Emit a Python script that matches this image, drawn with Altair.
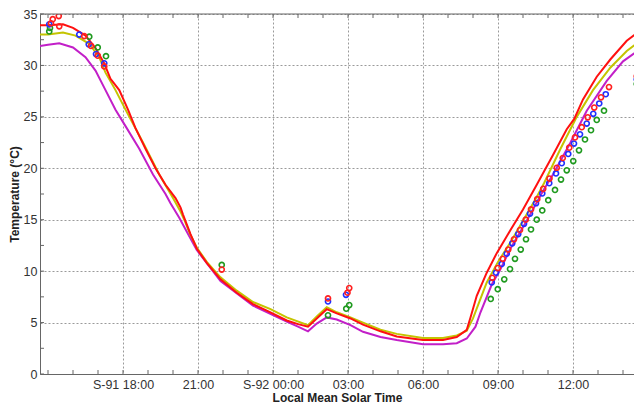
import altair as alt
import pandas as pd

# ---------------- data (hours from day S-91 00:00, temperature °C) ----------------
red_t = [14.68, 15.0, 15.6, 16.0, 16.5, 16.9, 17.25, 17.5, 17.85, 18.2, 18.5, 18.9, 19.3, 19.7, 20.1, 20.3,
         20.4, 20.7, 20.95, 21.35, 21.9, 22.55, 23.2, 23.9, 24.55, 25.0, 25.4, 25.75, 26.15, 26.55, 27.1,
         27.6, 28.3, 28.95, 30.0, 30.8, 31.35, 31.75, 31.9, 32.15, 32.55, 32.95, 33.5, 34.0, 34.55, 35.2,
         35.75, 36.05, 36.4, 36.95, 37.5, 38.15, 38.75]
red_T = [33.9, 33.9, 34.0, 33.65, 32.9, 31.7, 30.2, 28.7, 27.6, 25.7, 23.9, 21.9, 20.0, 18.4, 17.1, 16.2,
         15.5, 13.6, 12.2, 10.8, 9.2, 7.9, 6.8, 6.0, 5.2, 4.85, 4.6, 5.4, 6.3, 5.9, 5.4,
         4.8, 4.15, 3.65, 3.3, 3.3, 3.6, 4.3, 5.5, 7.6, 9.85, 11.75, 14.0, 16.0, 18.4, 21.3,
         23.8, 24.8, 26.7, 28.9, 30.6, 32.4, 33.5]

yellow_t = [14.68, 15.0, 15.6, 16.1, 16.65, 17.05, 17.3, 17.7, 18.1, 18.8, 19.45, 20.0, 20.3, 20.45, 20.7,
            20.95, 21.35, 21.9, 22.55, 23.2, 23.9, 24.55, 25.4, 25.75, 26.15, 26.55, 27.1, 27.6, 28.3, 28.95,
            30.0, 30.8, 31.35, 31.75, 32.0, 32.55, 33.0, 33.5, 34.0, 34.55, 34.85, 35.5, 36.15, 36.8, 37.5,
            38.15, 38.75]
yellow_T = [33.0, 33.0, 33.2, 32.9, 32.1, 30.8, 29.3, 27.6, 25.7, 22.5, 19.4, 17.1, 15.8, 15.0, 13.5,
            12.3, 10.9, 9.4, 8.1, 7.0, 6.3, 5.5, 4.75, 5.6, 6.5, 6.0, 5.5, 5.0, 4.3, 3.9,
            3.5, 3.5, 3.75, 4.2, 5.4, 8.9, 10.9, 12.8, 14.9, 17.2, 18.6, 21.9, 25.0, 27.6, 29.8,
            31.4, 32.5]

magenta_t = [14.68, 15.0, 15.45, 16.0, 16.5, 16.9, 17.3, 17.7, 18.1, 18.65, 19.2, 19.7, 19.9, 20.25, 20.45,
             20.95, 21.9, 23.2, 24.55, 25.0, 25.4, 25.75, 26.15, 26.55, 27.1, 27.6, 28.3, 28.95, 30.0, 30.8,
             31.35, 31.75, 32.1, 32.3, 32.75, 33.1, 33.5, 34.15, 34.8, 35.2, 35.9, 36.55, 37.35, 38.0, 38.75]
magenta_T = [31.9, 32.0, 32.15, 31.75, 30.8, 29.5, 27.6, 25.7, 24.1, 21.9, 19.4, 17.5, 16.6, 15.2, 14.3,
             12.05, 9.05, 6.65, 5.1, 4.6, 4.15, 4.9, 5.5, 5.3, 4.75, 4.1, 3.6, 3.3, 2.9, 2.9,
             3.0, 3.45, 4.6, 6.0, 8.7, 10.2, 12.2, 14.9, 17.8, 19.4, 22.5, 25.6, 28.5, 30.4, 31.7]

obs_red_t = [15.12, 15.19, 15.43, 15.45, 16.45, 16.72, 16.99, 17.25, 21.95, 26.2, 26.98, 27.05,
             32.77, 32.99, 33.19, 33.41, 33.64, 33.88, 34.11, 34.32, 34.57, 34.81, 35.06, 35.35, 35.59,
             35.85, 36.08, 36.35, 36.59, 36.85, 37.12, 37.44, 38.55]
obs_red_T = [34.1, 34.5, 34.8, 33.8, 32.85, 31.9, 30.95, 29.9, 10.15, 7.35, 7.9, 8.35,
             9.35, 10.3, 11.2, 12.1, 13.1, 14.0, 15.0, 16.0, 17.0, 18.0, 19.0, 20.05, 21.0,
             22.0, 23.0, 24.0, 24.95, 25.9, 26.9, 27.9, 28.95]

obs_blue_t = [15.05, 16.25, 16.63, 16.92, 17.25, 26.2, 26.92,
              32.75, 32.92, 33.15, 33.35, 33.57, 33.81, 34.04, 34.28, 34.52, 34.77, 35.05, 35.32, 35.55,
              35.81, 36.04, 36.28, 36.55, 36.81, 37.05, 37.31, 38.55]
obs_blue_T = [34.0, 33.0, 32.05, 31.1, 30.2, 7.05, 7.7,
              8.9, 9.85, 10.7, 11.7, 12.7, 13.6, 14.6, 15.6, 16.6, 17.55, 18.55, 19.5, 20.5,
              21.4, 22.4, 23.3, 24.35, 25.3, 26.3, 27.2, 28.65]

obs_green_t = [15.08, 15.05, 16.65, 16.99, 17.32, 21.95, 26.2, 26.93, 27.05,
               32.71, 32.99, 33.25, 33.48, 33.68, 33.91, 34.12, 34.32, 34.55, 34.77, 35.01, 35.28, 35.52,
               35.75, 36.01, 36.24, 36.48, 36.72, 36.95, 37.24, 38.55]
obs_green_T = [33.65, 33.3, 32.8, 31.75, 30.9, 10.6, 5.7, 6.35, 6.7,
               7.3, 8.25, 9.2, 10.2, 11.2, 12.1, 13.1, 14.05, 15.0, 15.9, 16.9, 17.9, 18.9,
               19.8, 20.7, 21.75, 22.8, 23.7, 24.7, 25.6, 28.2]

x_ticks_major = [18, 21, 24, 27, 30, 33, 36]
hour_ticks = list(range(15, 39))
y_ticks = [0, 5, 10, 15, 20, 25, 30, 35]
y_minor = [2.5, 7.5, 12.5, 17.5, 22.5, 27.5, 32.5]

x_domain = [14.68, 38.44]
y_domain = [0, 35]

W, H = 594, 360

# ---------------- chart ----------------
FONT = "Liberation Sans"
xs = alt.Scale(domain=x_domain, nice=False, zero=False)
ys = alt.Scale(domain=y_domain, nice=False, zero=False)

label_expr = ("datum.value == 18 ? 'S-91 18:00' : datum.value == 24 ? 'S-92 00:00' : "
              "((datum.value % 24) < 10 ? '0' : '') + (datum.value % 24) + ':00'")

x_axis = alt.Axis(values=x_ticks_major, labelExpr=label_expr, title="Local Mean Solar Time",
                  grid=True, ticks=False, labelPadding=4, titlePadding=2,
                  labelFont=FONT, labelFontSize=12.5, labelColor="#333",
                  titleFont=FONT, titleFontSize=12, titleFontWeight="bold", titleColor="#222",
                  domainColor="#666", gridColor="#9a9a9a", gridDash=[2, 2], labelFlush=False)
y_axis = alt.Axis(values=y_ticks, title="Temperature (°C)", grid=True, ticks=False,
                  labelPadding=3, titlePadding=2,
                  labelFont=FONT, labelFontSize=12.5, labelColor="#333",
                  titleFont=FONT, titleFontSize=12, titleFontWeight="bold", titleColor="#222",
                  domainColor="#666", gridColor="#9a9a9a", gridDash=[2, 2])

X = alt.X("t:Q", scale=xs, axis=x_axis)
Y = alt.Y("T:Q", scale=ys, axis=y_axis)


def line_layer(t, T, color):
    return alt.Chart(pd.DataFrame({"t": t, "T": T})).mark_line(
        color=color, strokeWidth=2, clip=True).encode(x=X, y=Y)


def obs_layer(t, T, color):
    return alt.Chart(pd.DataFrame({"t": t, "T": T})).mark_point(
        shape="circle", filled=False, color=color, size=26, strokeWidth=1.6, clip=True,
        opacity=1).encode(x=X, y=Y)


hdf = pd.DataFrame({"t": hour_ticks})
ydf = pd.DataFrame({"T": y_minor + y_ticks})
tick_color = "#666"
ticks_bottom = alt.Chart(hdf).mark_rule(color=tick_color).encode(
    x=X, y=alt.value(H), y2=alt.value(H - 4))
ticks_top = alt.Chart(hdf).mark_rule(color=tick_color).encode(
    x=X, y=alt.value(0), y2=alt.value(4))
ticks_left = alt.Chart(ydf).mark_rule(color=tick_color).encode(
    y=Y, x=alt.value(0), x2=alt.value(4))
top_border = alt.Chart(pd.DataFrame({"k": [0]})).mark_rule(color="#666").encode(
    x=alt.value(0), x2=alt.value(W), y=alt.value(0))

chart = alt.layer(
    line_layer(magenta_t, magenta_T, "#c21fc8"),
    line_layer(yellow_t, yellow_T, "#c4c400"),
    line_layer(red_t, red_T, "#ff1010"),
    obs_layer(obs_green_t, obs_green_T, "#1f9a1f"),
    obs_layer(obs_blue_t, obs_blue_T, "#2030ff"),
    obs_layer(obs_red_t, obs_red_T, "#ff2020"),
    ticks_bottom, ticks_top, ticks_left, top_border,
).properties(
    width=W, height=H,
    autosize=alt.AutoSizeParams(type="none"),
    padding={"left": 32, "top": 6, "right": 0, "bottom": 32},
    background="white",
).configure_view(strokeWidth=0)

chart.save("out.html", embed_options={"renderer": "svg", "actions": False})
